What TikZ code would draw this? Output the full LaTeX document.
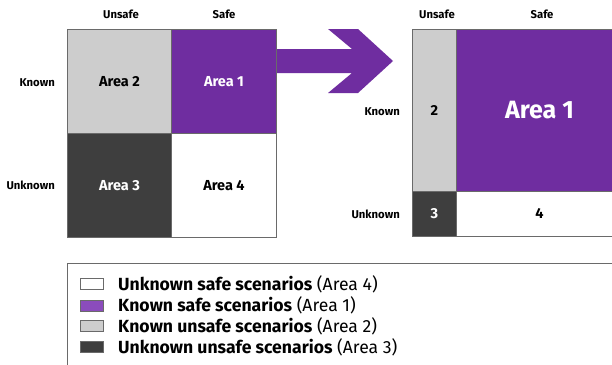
\documentclass[tikz,border=0pt]{standalone}
\usepackage{fontspec}
\setmainfont{Fira Sans}
\definecolor{purp}{HTML}{6F2DA0}
\definecolor{lpurp}{HTML}{8B4CBC}
\definecolor{lgray}{HTML}{CDCDCD}
\definecolor{dgray}{HTML}{3E3E3E}
\definecolor{edge}{HTML}{6A6A6A}
\begin{document}
\begin{tikzpicture}[x=1pt,y=-1pt,
  cell/.style={draw=edge,line width=0.9pt,inner sep=0pt,anchor=north west,font=\fontsize{14.5}{14.5}\selectfont\bfseries},
  axlbl/.style={font=\fontsize{11.3}{11.3}\selectfont\bfseries,inner sep=0pt},
  legbox/.style={draw=edge,line width=0.8pt,minimum width=23pt,minimum height=11pt,inner sep=0pt},
  legtxt/.style={anchor=west,inner sep=0pt,font=\fontsize{17.6}{17.6}\selectfont}]
\useasboundingbox (0,0) rectangle (612,364);
\fill[white] (0,0) rectangle (612,364);
% arrow
\fill[purp] (270,49) -- (352,49) -- (328,29) -- (358,29) -- (393,61) -- (358,93) -- (328,93) -- (352,73) -- (270,73) -- cycle;
% left grid
\node[cell,fill=lgray,minimum width=104pt,minimum height=104pt] (a2) at (67,29) {Area 2};
\node[cell,fill=purp,text=white,minimum width=105pt,minimum height=104pt] (a1) at (171,29) {Area 1};
\node[cell,fill=dgray,text=white,minimum width=104pt,minimum height=104pt] (a3) at (67,133) {Area 3};
\node[cell,fill=white,minimum width=105pt,minimum height=104pt] (a4) at (171,133) {Area 4};
\node[axlbl] (lu) at (121,14) {Unsafe};
\node[axlbl] (ls) at (224,14) {Safe};
\node[axlbl,anchor=east] (lk) at (55,83) {Known};
\node[axlbl,anchor=east] (lun) at (55,185) {Unknown};
% right grid
\node[cell,fill=lgray,minimum width=44pt,minimum height=162pt] (b2) at (412,29) {2};
\node[cell,fill=purp,text=white,minimum width=166pt,minimum height=162pt,font=\fontsize{25}{25}\selectfont\bfseries] (b1) at (456,29) {Area 1};
\node[cell,fill=dgray,text=white,minimum width=44pt,minimum height=45pt] (b3) at (412,191) {3};
\node[cell,fill=white,minimum width=166pt,minimum height=45pt] (b4) at (456,191) {4};
\node[axlbl] (ru) at (437,14) {Unsafe};
\node[axlbl] (rs) at (542,14) {Safe};
\node[axlbl,anchor=east] (rk) at (400,112) {Known};
\node[axlbl,anchor=east] (run) at (400,214) {Unknown};
% legend
\draw[edge,line width=1pt] (67,372) -- (67,263) -- (620,263);
\node[legbox,fill=white] (k4) at (92,284) {};
\node[legbox,fill=lpurp] (k1) at (92,305.5) {};
\node[legbox,fill=lgray] (k2) at (92,326) {};
\node[legbox,fill=dgray] (k3) at (92,347) {};
\node[legtxt] (t4) at (118,284) {\textbf{Unknown safe scenarios} (Area 4)};
\node[legtxt] (t1) at (118,305.5) {\textbf{Known safe scenarios} (Area 1)};
\node[legtxt] (t2) at (118,326) {\textbf{Known unsafe scenarios} (Area 2)};
\node[legtxt] (t3) at (118,347) {\textbf{Unknown unsafe scenarios} (Area 3)};
\end{tikzpicture}
\end{document}
